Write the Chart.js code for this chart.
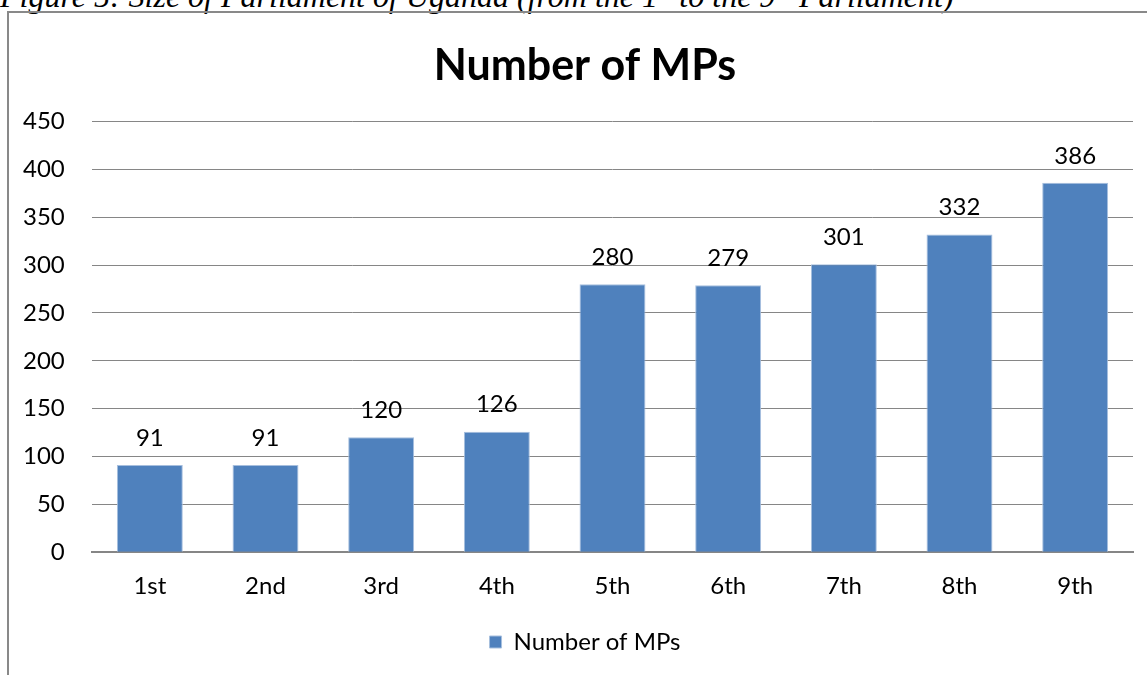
<!DOCTYPE html>
<html lang="en">
<head>
    <meta charset="UTF-8">
    <title>Size of Parliament of Uganda</title>
    <script src="https://cdn.jsdelivr.net/npm/chart.js"></script>
    <style>
        html, body { margin: 0; padding: 0; background: #fff; overflow: hidden; }
        body { width: 1147px; height: 675px; position: relative; }
        #caption {
            position: absolute; left: 0; top: -20px; white-space: nowrap;
            font: italic 32px/32px "Liberation Serif", "Times New Roman", serif; color: #000;
        }
        #caption sup { font-size: 20px; line-height: 0; }
        #frame {
            position: absolute; left: 7px; top: 11px; width: 1200px; height: 700px;
            border: 2px solid #898989; box-sizing: border-box;
        }
        #chart-box { position: absolute; left: 0; top: 0; width: 1172px; height: 675px; }
    </style>
</head>
<body>
    <div id="caption">Figure 5: Size of Parliament of Uganda (from the 1<sup>st</sup> to the 9<sup>th</sup> Parliament)</div>
    <div id="frame"></div>
    <div id="chart-box"><canvas id="mps-chart" width="1172" height="675"></canvas></div>

    <script>
        // Parliaments and seat counts
        const parliaments = ['1st', '2nd', '3rd', '4th', '5th', '6th', '7th', '8th', '9th'];
        const mpCounts = [91, 91, 120, 126, 280, 279, 301, 332, 386];
        const yTicks = [0, 50, 100, 150, 200, 250, 300, 350, 400, 450];

        const labelFont = '24px Lato';

        // Writes each bar's value above it
        const valueLabels = {
            id: 'valueLabels',
            afterDatasetsDraw(chart) {
                const ctx = chart.ctx;
                const meta = chart.getDatasetMeta(0);
                ctx.save();
                ctx.font = labelFont;
                ctx.fillStyle = '#000';
                ctx.textAlign = 'center';
                ctx.textBaseline = 'middle';
                meta.data.forEach((bar, i) => {
                    ctx.fillText(String(mpCounts[i]), bar.x, bar.y - 27);
                });
                ctx.restore();
            }
        };

        const ctx = document.getElementById('mps-chart').getContext('2d');
        new Chart(ctx, {
            type: 'bar',
            data: {
                labels: parliaments,
                datasets: [{
                    label: 'Number of MPs',
                    data: mpCounts,
                    backgroundColor: '#4F81BD',
                    borderColor: '#A7BFDE',
                    borderWidth: 1,
                    barPercentage: 0.57,
                    categoryPercentage: 1.0
                }]
            },
            options: {
                responsive: false,
                animation: false,
                layout: { padding: { left: 37, right: 39, top: 40, bottom: 11 } },
                plugins: {
                    title: {
                        display: true,
                        text: 'Number of MPs',
                        color: '#000',
                        font: { family: 'Lato', size: 43, weight: 'bold' },
                        padding: { top: 0, bottom: 30 }
                    },
                    legend: {
                        position: 'bottom',
                        labels: {
                            color: '#000',
                            font: { family: 'Lato', size: 24 },
                            boxWidth: 12,
                            boxHeight: 12,
                            padding: 10
                        }
                    },
                    tooltip: { enabled: false }
                },
                scales: {
                    x: {
                        afterFit(axis) { axis.height += 7; },
                        grid: { display: false },
                        border: { color: '#868686', width: 2 },
                        ticks: { color: '#000', font: { family: 'Lato', size: 24 }, padding: 12 }
                    },
                    y: {
                        min: 0,
                        max: 450,
                        afterBuildTicks(axis) {
                            axis.ticks = yTicks.map(v => ({ value: v }));
                        },
                        afterFit(axis) { axis.width = 55; },
                        grid: { color: '#868686', lineWidth: 1, drawTicks: false },
                        border: { display: false },
                        // mirrored + far alignment keeps the labels right-aligned left of the plot
                        ticks: {
                            color: '#000',
                            font: { family: 'Lato', size: 24 },
                            mirror: true,
                            crossAlign: 'far',
                            padding: -69
                        }
                    }
                }
            },
            plugins: [valueLabels]
        });
    </script>
</body>
</html>
